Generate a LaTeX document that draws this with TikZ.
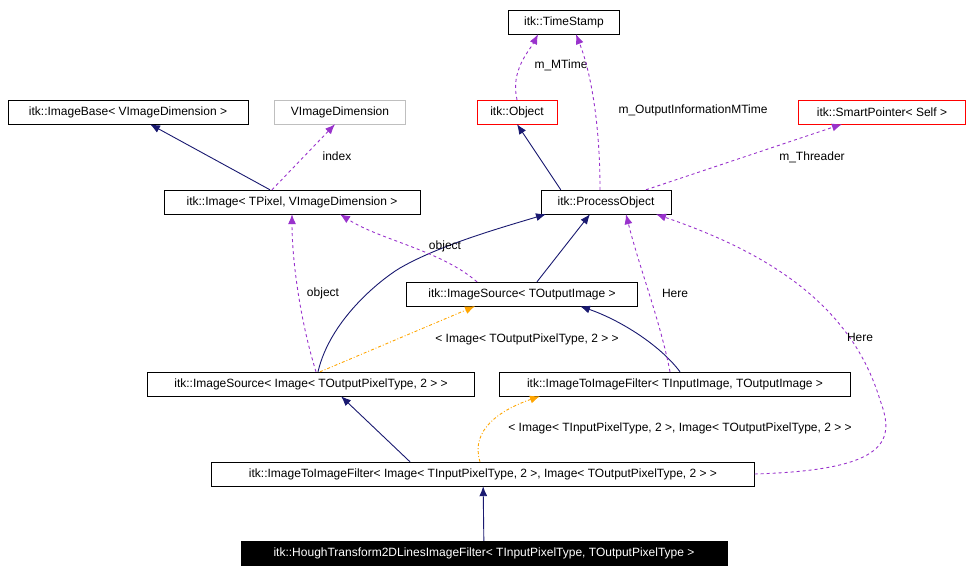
\documentclass[tikz,border=0pt]{standalone}
\usepackage{fontspec}
\setmainfont{Liberation Sans}
\usetikzlibrary{arrows.meta, positioning}

\definecolor{navy}{RGB}{25,25,112}
\definecolor{purp}{RGB}{153,50,204}
\definecolor{orng}{RGB}{255,165,0}

\tikzset{
  cls/.style={draw=black, fill=white, inner sep=0pt, minimum height=24pt, font=\fontsize{12}{14}\selectfont},
  inh/.style={navy, line width=0.9pt, -{Latex[length=10pt,width=8pt]}},
  use/.style={purp, line width=0.9pt, dashed, -{Latex[length=10pt,width=8pt]}},
  tpl/.style={orng, line width=0.9pt, dash dot, -{Latex[length=10pt,width=8pt]}},
  lbl/.style={font=\fontsize{12}{14}\selectfont, text=black, inner sep=1pt}
}

\begin{document}
\begin{tikzpicture}[x=1pt, y=-1pt]
    \useasboundingbox (0,0) rectangle (974,572);

    % Classes
    \node[cls, minimum width=111pt] (stamp) at (564,22) {itk::TimeStamp};
    \node[cls, minimum width=240pt] (base) at (128,112) {itk::ImageBase< VImageDimension >};
    \node[cls, draw=lightgray, minimum width=131pt] (dim) at (340,112) {VImageDimension};
    \node[cls, draw=red, minimum width=80pt] (obj) at (517,112) {itk::Object};
    \node[cls, draw=red, minimum width=167pt] (smart) at (882,112) {itk::SmartPointer< Self >};
    \node[cls, minimum width=256pt] (img) at (292,202) {itk::Image< TPixel, VImageDimension >};
    \node[cls, minimum width=130pt] (proc) at (606,202) {itk::ProcessObject};
    \node[cls, minimum width=231pt] (srcT) at (522,294) {itk::ImageSource< TOutputImage >};
    \node[cls, minimum width=327pt] (srcI) at (311,384) {itk::ImageSource< Image< TOutputPixelType, 2 > >};
    \node[cls, minimum width=351pt] (filtT) at (675,384) {itk::ImageToImageFilter< TInputImage, TOutputImage >};
    \node[cls, minimum width=543pt] (filtI) at (483,474) {itk::ImageToImageFilter< Image< TInputPixelType, 2 >, Image< TOutputPixelType, 2 > >};
    \node[cls, fill=black, text=white, minimum width=486pt] (hough) at (484,553) {itk::HoughTransform2DLinesImageFilter< TInputPixelType, TOutputPixelType >};

    % Inheritance
    \draw[inh] (img.north) ++(-22,0) -- ([xshift=22pt]base.south);
    \draw[inh] ([xshift=20pt]proc.north west) -- (obj.south);
    \draw[inh] ([xshift=15pt]srcT.north) -- ([xshift=-16pt]proc.south);
    \draw[inh] ([xshift=7pt]srcI.north) .. controls (330,320) and (380,280) .. (400,268) .. controls (440,245) and (500,228) .. ([xshift=-60pt]proc.south);
    \draw[inh] ([xshift=5pt]filtT.north) .. controls (660,345) and (620,320) .. ([xshift=58pt]srcT.south);
    \draw[inh] ([xshift=-73pt]filtI.north) -- ([xshift=30pt]srcI.south);
    \draw[inh] (hough) -- (filtI);

    % Templates
    \draw[tpl] ([xshift=9pt]srcI.north) -- ([xshift=-47pt]srcT.south);
    \node[lbl] at (527,339) {< Image< TOutputPixelType, 2 > >};
    \draw[tpl] ([xshift=-3pt]filtI.north) .. controls (470,430) and (500,410) .. ([xshift=-135pt]filtT.south);
    \node[lbl] at (680,428) {< Image< TInputPixelType, 2 >, Image< TOutputPixelType, 2 > >};

    % Usage
    \draw[use] (obj.north) .. controls (510,70) and (530,50) .. ([xshift=-26pt]stamp.south);
    \node[lbl] at (561,65) {m\_MTime};
    \draw[use] ([xshift=-6pt]proc.north) .. controls (600,120) and (590,70) .. ([xshift=12pt]stamp.south);
    \node[lbl] at (693,110) {m\_OutputInformationMTime};
    \draw[use] ([xshift=40pt]proc.north) -- ([xshift=-40pt]smart.south);
    \node[lbl] at (812,157) {m\_Threader};
    \draw[use] ([xshift=-20pt]img.north) -- ([xshift=-5pt]dim.south);
    \node[lbl] at (337,156) {index};
    \draw[use] ([xshift=5pt]srcI.north) .. controls (300,320) and (292,260) .. (img.south);
    \node[lbl] at (323,293) {object};
    \draw[use] ([xshift=-45pt]srcT.north) .. controls (440,250) and (380,240) .. ([xshift=48pt]img.south);
    \node[lbl] at (445,246) {object};
    \draw[use] ([xshift=-5pt]filtT.north) .. controls (660,320) and (640,270) .. ([xshift=20pt]proc.south);
    \node[lbl] at (675,293) {Here};
    \draw[use] (filtI.east) .. controls (890,470) and (895,440) .. (880,400) .. controls (850,300) and (760,250) .. ([xshift=50pt]proc.south);
    \node[lbl] at (860,337) {Here};
\end{tikzpicture}
\end{document}
